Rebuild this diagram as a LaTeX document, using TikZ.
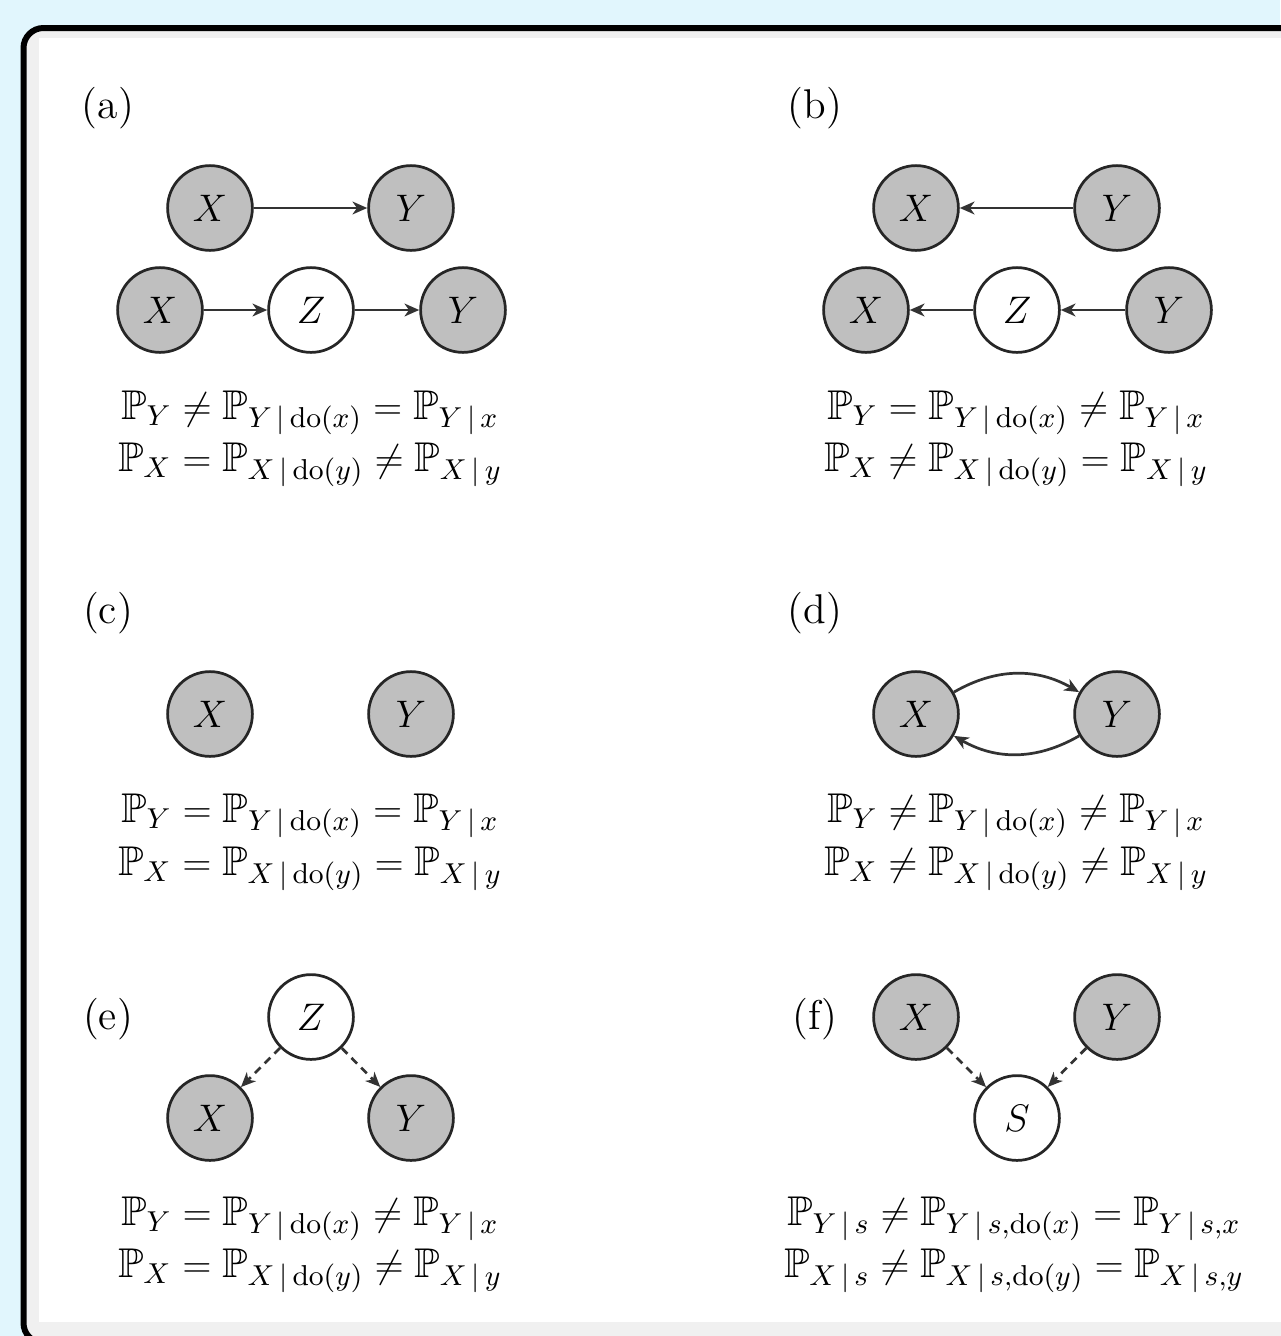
\documentclass[tikz,border=0pt]{standalone}
\usepackage{amssymb}
\usetikzlibrary{arrows.meta}
\definecolor{bgblue}{RGB}{225,246,253}
\definecolor{framegray}{RGB}{240,240,240}
\definecolor{nodegray}{RGB}{191,191,191}
\newcommand{\Pb}{\mathbb{P}}
\newcommand{\gv}{\,|\,}
\begin{document}
\begin{tikzpicture}[x=0.3125pt,y=-0.3125pt,
  obs/.style={circle, draw=black!85, fill=nodegray, line width=0.85pt, minimum size=26.5pt, inner sep=0pt, font=\fontsize{13}{16}\selectfont},
  lat/.style={obs, fill=white},
  arr/.style={-{Stealth[length=4.6pt,width=4pt,inset=1.4pt]}, line width=0.85pt, draw=black!80},
  darr/.style={arr, dash pattern=on 2.5pt off 1.8pt},
  eq/.style={anchor=base, inner sep=0pt, font=\fontsize{13}{16}\selectfont},
  lbl/.style={anchor=base, inner sep=0pt, font=\fontsize{13}{16}\selectfont}]
\fill[bgblue] (0,0) rectangle (1280,1336);
\useasboundingbox (0,0) rectangle (1280,1336);
\draw[line width=1.875pt, fill=framegray, rounded corners=6.25pt] (23.5,28) rectangle (1320,1343);
\fill[white] (39,38) rectangle (1300,1322);

% (a)
\node[lbl] (la) at (108,118) {(a)};
\node[obs] (a1x) at (210,208) {$X$};
\node[obs] (a1y) at (411,208) {$Y$};
\node[obs] (a2x) at (160,310) {$X$};
\node[lat] (a2z) at (311,310) {$Z$};
\node[obs] (a2y) at (463,310) {$Y$};
\draw[arr] (a1x) -- (a1y);
\draw[arr] (a2x) -- (a2z);
\draw[arr] (a2z) -- (a2y);
\node[eq] (ea1) at (310,419) {$\Pb_Y \neq \Pb_{Y\gv\mathrm{do}(x)} = \Pb_{Y\gv x}$};
\node[eq] (ea2) at (310,471) {$\Pb_X = \Pb_{X\gv\mathrm{do}(y)} \neq \Pb_{X\gv y}$};

% (b)
\node[lbl] (lb) at (815,118) {(b)};
\node[obs] (b1x) at (916,208) {$X$};
\node[obs] (b1y) at (1117,208) {$Y$};
\node[obs] (b2x) at (866,310) {$X$};
\node[lat] (b2z) at (1017,310) {$Z$};
\node[obs] (b2y) at (1169,310) {$Y$};
\draw[arr] (b1y) -- (b1x);
\draw[arr] (b2y) -- (b2z);
\draw[arr] (b2z) -- (b2x);
\node[eq] (eb1) at (1016,419) {$\Pb_Y = \Pb_{Y\gv\mathrm{do}(x)} \neq \Pb_{Y\gv x}$};
\node[eq] (eb2) at (1016,471) {$\Pb_X \neq \Pb_{X\gv\mathrm{do}(y)} = \Pb_{X\gv y}$};

% (c)
\node[lbl] (lc) at (108,623) {(c)};
\node[obs] (cx) at (210,714) {$X$};
\node[obs] (cy) at (411,714) {$Y$};
\node[eq] (ec1) at (310,822) {$\Pb_Y = \Pb_{Y\gv\mathrm{do}(x)} = \Pb_{Y\gv x}$};
\node[eq] (ec2) at (310,875) {$\Pb_X = \Pb_{X\gv\mathrm{do}(y)} = \Pb_{X\gv y}$};

% (d)
\node[lbl] (ld) at (815,623) {(d)};
\node[obs] (dx) at (916,714) {$X$};
\node[obs] (dy) at (1117,714) {$Y$};
\draw[arr] (dx) to[bend left=30] (dy);
\draw[arr] (dy) to[bend left=30] (dx);
\node[eq] (ed1) at (1016,822) {$\Pb_Y \neq \Pb_{Y\gv\mathrm{do}(x)} \neq \Pb_{Y\gv x}$};
\node[eq] (ed2) at (1016,875) {$\Pb_X \neq \Pb_{X\gv\mathrm{do}(y)} \neq \Pb_{X\gv y}$};

% (e)
\node[lbl] (le) at (108,1029) {(e)};
\node[lat] (ez) at (311,1017) {$Z$};
\node[obs] (ex) at (210,1118) {$X$};
\node[obs] (ey) at (411,1118) {$Y$};
\draw[darr] (ez) -- (ex);
\draw[darr] (ez) -- (ey);
\node[eq] (ee1) at (310,1225) {$\Pb_Y = \Pb_{Y\gv\mathrm{do}(x)} \neq \Pb_{Y\gv x}$};
\node[eq] (ee2) at (310,1277) {$\Pb_X = \Pb_{X\gv\mathrm{do}(y)} \neq \Pb_{X\gv y}$};

% (f)
\node[lbl] (lf) at (815,1029) {(f)};
\node[obs] (fx) at (916,1017) {$X$};
\node[obs] (fy) at (1117,1017) {$Y$};
\node[lat] (fs) at (1017,1118) {$S$};
\draw[darr] (fx) -- (fs);
\draw[darr] (fy) -- (fs);
\node[eq] (ef1) at (1014,1225) {$\Pb_{Y\gv s} \neq \Pb_{Y\gv s,\mathrm{do}(x)} = \Pb_{Y\gv s,x}$};
\node[eq] (ef2) at (1014,1277) {$\Pb_{X\gv s} \neq \Pb_{X\gv s,\mathrm{do}(y)} = \Pb_{X\gv s,y}$};
\end{tikzpicture}
\end{document}
